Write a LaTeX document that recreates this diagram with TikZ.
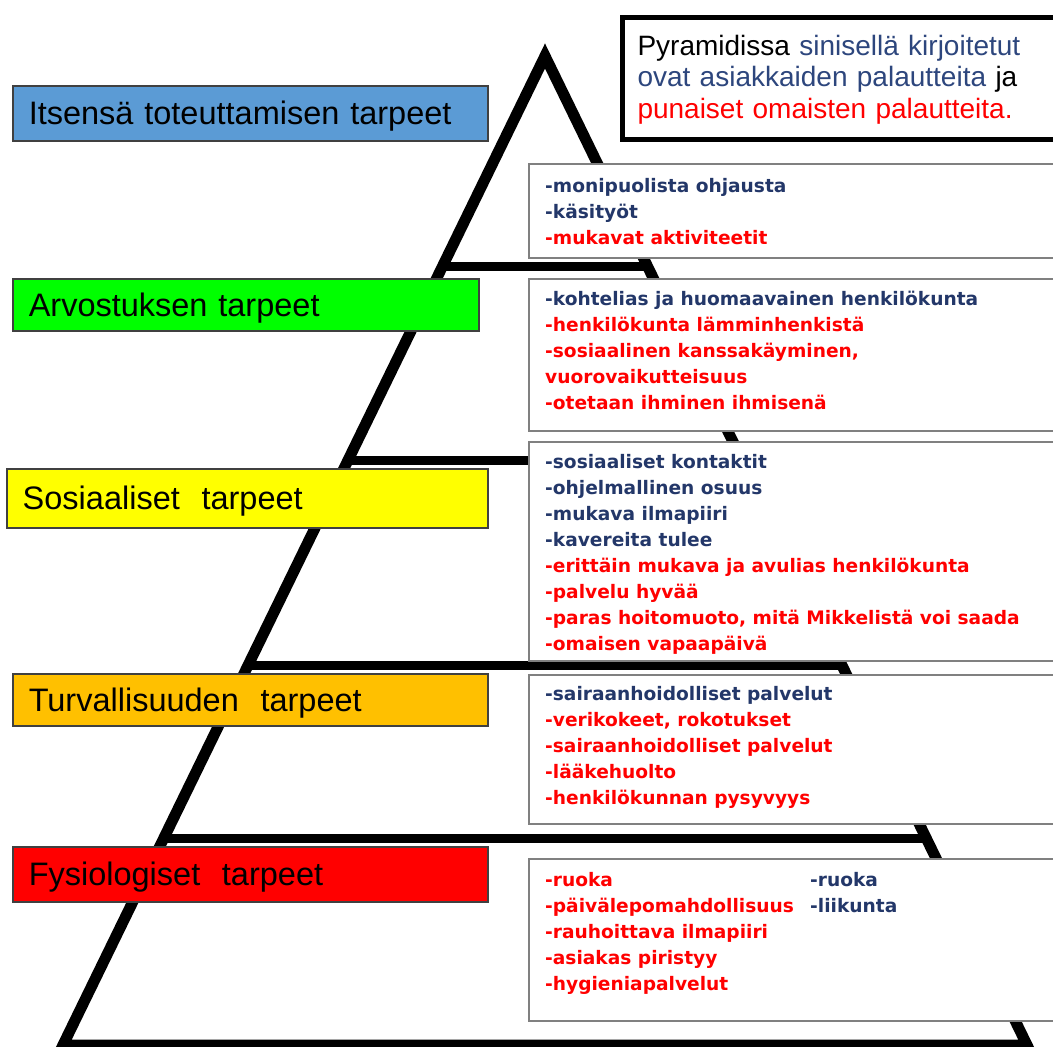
\documentclass[tikz,border=0pt]{standalone}
\usepackage{fontspec}
\setmainfont{Liberation Sans}
\newfontfamily\listfont{DejaVu Sans}
\usetikzlibrary{positioning}
\definecolor{lvlblue}{RGB}{91,155,213}
\definecolor{lvlgreen}{RGB}{0,255,0}
\definecolor{lvlyellow}{RGB}{255,255,0}
\definecolor{lvlorange}{RGB}{255,192,0}
\definecolor{lvlred}{RGB}{255,0,0}
\definecolor{asblue}{RGB}{35,55,105}
\definecolor{legblue}{RGB}{45,70,125}
\definecolor{omred}{RGB}{255,0,0}
\newcommand\asi[1]{\textcolor{asblue}{#1}}
\newcommand\oma[1]{\textcolor{omred}{#1}}
\begin{document}
\begin{tikzpicture}[x=1pt,y=-1pt,
  pyr/.style={line width=11pt,line join=miter},
  lvlline/.style={line width=9pt},
  lvlbox/.style={fill=#1,draw=black!75,line width=1.5pt,anchor=north west,
    align=left,inner xsep=16pt,text width=443pt,text height=27pt,text depth=4pt,
    font=\fontsize{32.5}{36}\selectfont},
  lstbox/.style={draw=black!50,line width=1.5pt,fill=white,anchor=north west,
    minimum width=560pt,inner sep=0pt},
  lsttext/.style={align=left,inner sep=0pt,
    font=\listfont\bfseries\fontsize{18.6}{26}\selectfont}]
\useasboundingbox (0,0) rectangle (1053,1047);
\clip (0,0) rectangle (1053,1047);
\def\slope{0.4875}
\def\ytop{56}
% pyramid
\coordinate (apex) at (545,\ytop);
\coordinate (bl) at (63,1045);
\coordinate (br) at (1027,1045);
\foreach \yy in {266,460,665,838}
  \draw[lvlline] ({545-\slope*(\yy-\ytop)},\yy) -- ({545+\slope*(\yy-\ytop)},\yy);
\draw[pyr] (apex) -- (bl) -- (br) -- cycle;
% levels
\node[lvlbox=lvlblue,minimum height=55pt] (self) at (12,85) {Itsensä toteuttamisen tarpeet};
\node[lvlbox=lvlgreen,minimum height=52pt,text width=434pt] (esteem) at (12,278) {Arvostuksen tarpeet};
\node[lvlbox=lvlyellow,minimum height=59pt,text width=449pt] (social) at (6,468) {Sosiaaliset\ \ tarpeet};
\node[lvlbox=lvlorange,minimum height=52pt] (safety) at (12,673) {Turvallisuuden\ \ tarpeet};
\node[lvlbox=lvlred,minimum height=55pt] (phys) at (12,846) {Fysiologiset\ \ tarpeet};
% feedback boxes
\node[lstbox,minimum height=94pt] (boxA) at (528,163) {};
\node[lsttext,below right=11.5pt and 17pt of boxA.north west] (listA) {\strut
  \asi{-monipuolista ohjausta}\\ \asi{-käsityöt}\\ \oma{-mukavat aktiviteetit}};
\node[lstbox,minimum height=152pt] (boxB) at (528,278) {};
\node[lsttext,below right=9pt and 17pt of boxB.north west] (listB) {\strut
  \asi{-kohtelias ja huomaavainen henkilökunta}\\ \oma{-henkilökunta lämminhenkistä}\\
  \oma{-sosiaalinen kanssakäyminen,}\\ \oma{vuorovaikutteisuus}\\ \oma{-otetaan ihminen ihmisenä}};
\node[lstbox,minimum height=219pt] (boxC) at (528,441) {};
\node[lsttext,below right=9pt and 17pt of boxC.north west] (listC) {\strut
  \asi{-sosiaaliset kontaktit}\\ \asi{-ohjelmallinen osuus}\\ \asi{-mukava ilmapiiri}\\
  \asi{-kavereita tulee}\\ \oma{-erittäin mukava ja avulias henkilökunta}\\ \oma{-palvelu hyvää}\\
  \oma{-paras hoitomuoto, mitä Mikkelistä voi saada}\\ \oma{-omaisen vapaapäivä}};
\node[lstbox,minimum height=149pt] (boxD) at (528,674) {};
\node[lsttext,below right=8pt and 17pt of boxD.north west] (listD) {\strut
  \asi{-sairaanhoidolliset palvelut}\\ \oma{-verikokeet, rokotukset}\\
  \oma{-sairaanhoidolliset palvelut}\\ \oma{-lääkehuolto}\\ \oma{-henkilökunnan pysyvyys}};
\node[lstbox,minimum height=162pt] (boxE) at (528,858) {};
\node[lsttext,below right=10.5pt and 17pt of boxE.north west] (listE) {\strut
  \oma{-ruoka}\\ \oma{-päivälepomahdollisuus}\\ \oma{-rauhoittava ilmapiiri}\\
  \oma{-asiakas piristyy}\\ \oma{-hygieniapalvelut}};
\node[lsttext,below right=10.5pt and 282pt of boxE.north west] (listEb) {\strut
  \asi{-ruoka}\\ \asi{-liikunta}};
% legend
\node[draw,line width=5pt,fill=white,anchor=north west,align=left,text width=430pt,
  inner xsep=15.5pt,inner ysep=16pt,font=\fontsize{28}{31.5}\selectfont] (legend) at (619.5,14.5)
  {\strut Pyramidissa \textcolor{legblue}{sinisellä kirjoitetut}\\
   \textcolor{legblue}{ovat asiakkaiden palautteita} ja\\
   \textcolor{omred}{punaiset omaisten palautteita.}};
\end{tikzpicture}
\end{document}
